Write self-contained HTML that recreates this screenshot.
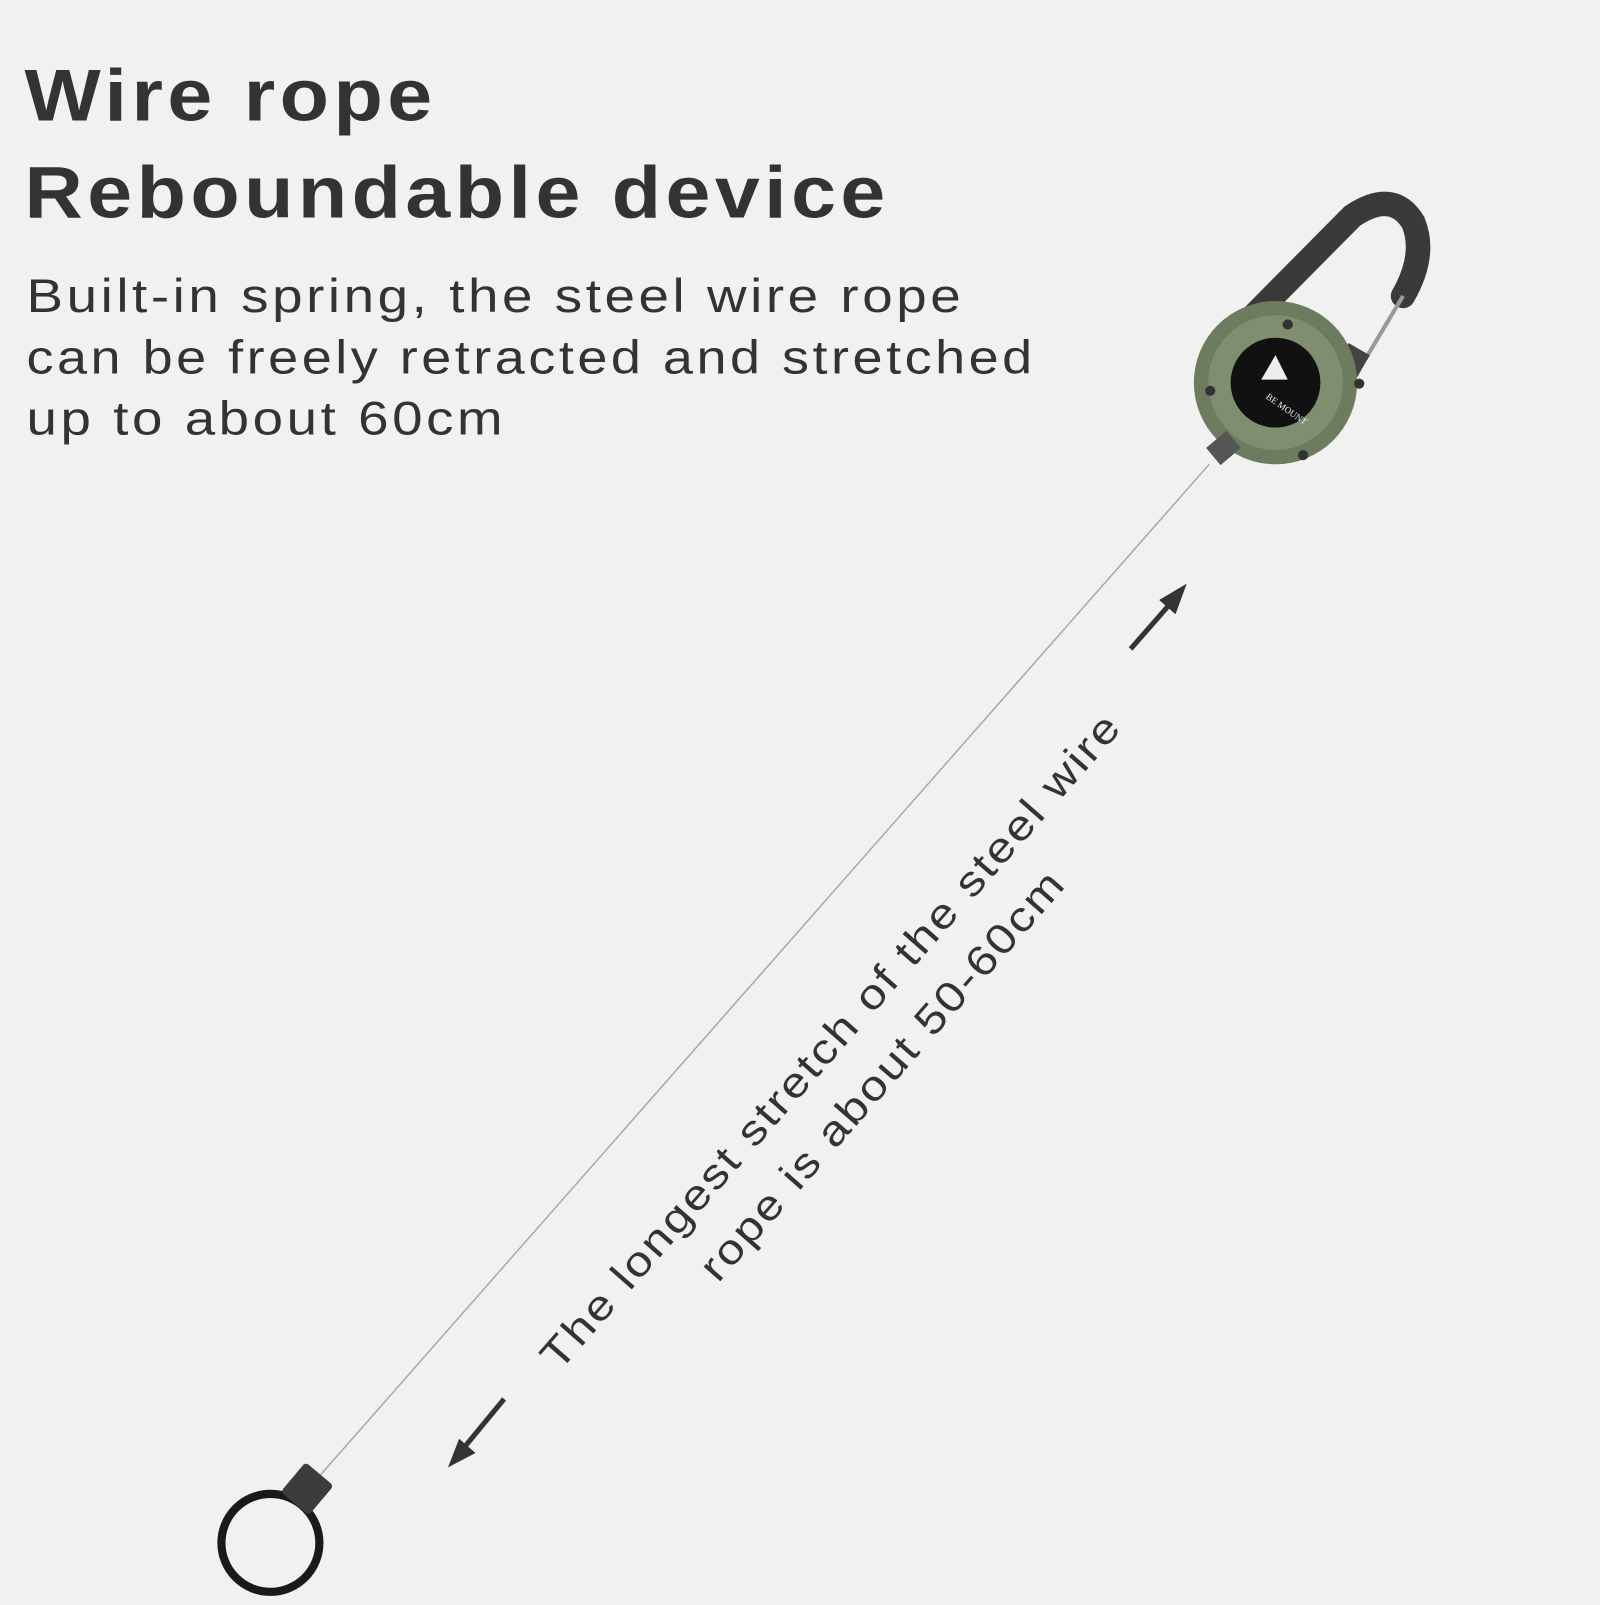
<!DOCTYPE html>
<html><head><style>html,body{margin:0;padding:0;background:#f1f1f1}</style></head>
<body>
<svg width="1600" height="1600" viewBox="0 0 1568 1568" xmlns="http://www.w3.org/2000/svg">
<rect width="1568" height="1568" fill="#f1f1f1"/>
<g font-family="Liberation Sans, sans-serif" fill="#333">
<text x="24" y="118" font-size="72" font-weight="bold" letter-spacing="4" textLength="404" lengthAdjust="spacingAndGlyphs">Wire rope</text>
<text x="24" y="213" font-size="72" font-weight="bold" letter-spacing="4" textLength="848" lengthAdjust="spacingAndGlyphs">Reboundable device</text>
<text x="26" y="306" font-size="46" letter-spacing="3" textLength="919" lengthAdjust="spacingAndGlyphs">Built-in spring, the steel wire rope</text>
<text x="26" y="366" font-size="46" letter-spacing="3" textLength="989" lengthAdjust="spacingAndGlyphs">can be freely retracted and stretched</text>
<text x="26" y="426" font-size="46" letter-spacing="3" textLength="470" lengthAdjust="spacingAndGlyphs">up to about 60cm</text>
<g transform="translate(548,1345) rotate(-48.8)" font-size="41">
<text x="0" y="0" letter-spacing="2" textLength="840" lengthAdjust="spacingAndGlyphs">The longest stretch of the steel wire</text>
<text x="168" y="60" letter-spacing="2" textLength="520" lengthAdjust="spacingAndGlyphs">rope is about 50-60cm</text>
</g>
</g>
<line x1="1185" y1="455" x2="310" y2="1450" stroke="#aaa" stroke-width="1.5"/>
<g stroke="#333" stroke-width="5" fill="#333">
<line x1="1108" y1="636" x2="1150" y2="588"/>
<polygon points="1163,572 1136,588 1152,602" stroke="none"/>
<line x1="494" y1="1371" x2="452" y2="1422"/>
<polygon points="439,1438 450,1410 466,1424" stroke="none"/>
</g>
<path d="M1228,310 L1325,212 Q1365,185 1385,218 Q1398,250 1375,290" fill="none" stroke="#3a3a3a" stroke-width="24" stroke-linecap="round"/>
<line x1="1375" y1="290" x2="1338" y2="352" stroke="#999" stroke-width="4"/>
<rect x="1312" y="340" width="24" height="32" fill="#444" transform="rotate(30 1324 356)"/>
<circle cx="1250" cy="375" r="80" fill="#6d7b5e"/>
<circle cx="1250" cy="375" r="66" fill="#808e70"/>
<circle cx="1250" cy="375" r="44" fill="#111"/>
<polygon points="1250,348 1236,372 1262,372" fill="#eee"/>
<text x="1240" y="390" font-family="Liberation Serif, serif" font-size="9" fill="#eee" transform="rotate(35 1240 390)">BE MOUNT</text>
<g fill="#333"><circle cx="1262" cy="318" r="5"/><circle cx="1332" cy="376" r="5"/><circle cx="1186" cy="383" r="5"/><circle cx="1277" cy="446" r="5"/></g>
<rect x="1186" y="428" width="26" height="22" fill="#555" transform="rotate(-40 1199 439)"/>
<circle cx="265" cy="1512" r="48" fill="none" stroke="#1a1a1a" stroke-width="8"/>
<rect x="283" y="1440" width="36" height="38" rx="4" fill="#3c3c3c" transform="rotate(40 301 1459)"/>
</svg>
</body></html>
